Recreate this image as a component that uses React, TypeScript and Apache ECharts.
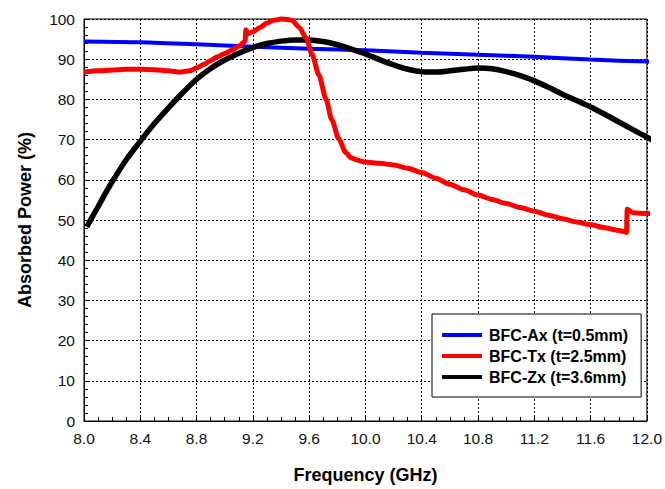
import React, { useEffect, useRef } from "react";
import * as echarts from "echarts";

// ---- Data ----
const seriesNames = ["BFC-Ax (t=0.5mm)", "BFC-Tx (t=2.5mm)", "BFC-Zx (t=3.6mm)"];

const axFreq = [8.0, 8.4, 8.8, 9.2, 9.6, 10.0, 10.4, 10.8, 11.2, 11.6, 12.0, 12.04];
const axPower = [94.4, 94.2, 93.7, 93.1, 92.6, 92.2, 91.6, 91.1, 90.6, 89.9, 89.4, 89.3];

const txFreq = [
  8.0, 8.1, 8.2, 8.3, 8.4, 8.5, 8.6, 8.68, 8.75, 8.8, 8.85, 8.9, 8.95, 9.0, 9.05, 9.1, 9.13, 9.145,
  9.15, 9.165, 9.2, 9.25, 9.3, 9.35, 9.4, 9.45, 9.48, 9.53, 9.58, 9.62, 9.67, 9.72, 9.76, 9.81,
  9.86, 9.9, 9.95, 10.0, 10.1, 10.2, 10.3, 10.4, 10.5, 10.6, 10.7, 10.8, 10.9, 11.0, 11.1, 11.2,
  11.3, 11.4, 11.5, 11.6, 11.7, 11.8, 11.855, 11.86, 11.9, 12.0, 12.04,
];
const txPower = [
  86.8, 87.1, 87.3, 87.5, 87.5, 87.4, 87.1, 86.8, 87.1, 87.8, 88.7, 89.7, 90.6, 91.4, 92.2, 93.2, 94.0, 94.6,
  97.3, 96.3, 96.8, 97.9, 99.0, 99.7, 100.0, 99.9, 99.6, 97.9, 95.2, 91.2, 86.0, 80.0, 75.0, 70.2,
  66.8, 65.4, 64.8, 64.4, 64.1, 63.7, 62.9, 61.8, 60.4, 58.9, 57.5, 56.2, 55.1, 54.1, 53.1, 52.2,
  51.2, 50.3, 49.5, 48.8, 48.1, 47.4, 46.9, 52.7, 51.8, 51.6, 51.6,
];

const zxFreq = [
  8.02, 8.05, 8.1, 8.15, 8.2, 8.3, 8.4, 8.5, 8.6, 8.7, 8.8, 8.9, 9.0, 9.1, 9.2, 9.3, 9.4, 9.5, 9.6,
  9.7, 9.8, 9.9, 10.0, 10.1, 10.2, 10.3, 10.4, 10.5, 10.6, 10.7, 10.8, 10.9, 11.0, 11.1, 11.2, 11.3,
  11.4, 11.5, 11.6, 11.7, 11.8, 11.9, 12.0, 12.06,
];
const zxPower = [
  48.3, 50.2, 53.3, 56.5, 59.5, 65.0, 69.6, 74.0, 77.9, 81.6, 85.0, 87.7, 89.8, 91.5, 92.9, 93.9, 94.5, 94.8, 94.8,
  94.4, 93.6, 92.5, 91.3, 89.9, 88.6, 87.5, 86.9, 86.8, 87.1, 87.5, 87.8, 87.6, 86.9, 85.9, 84.6, 83.0,
  81.3, 79.7, 78.1, 76.3, 74.4, 72.5, 70.6, 69.5,
];

const xMin = 8.0;
const xMax = 12.0;
const xStep = 0.4;
const yMin = 0;
const yMax = 100;
const yStep = 10;

const pairs = (xs: number[], ys: number[]) => xs.map((x, i) => [x, ys[i]]);

const FONT = "'Liberation Sans', Arial, sans-serif";

export default function App() {
  const ref = useRef<HTMLDivElement>(null);

  useEffect(() => {
    if (!ref.current) return;
    const chart = echarts.init(ref.current, undefined, { renderer: "svg" });
    const splitLine = { show: true, lineStyle: { color: "#000", width: 1, type: [2, 2] as any } };
    chart.setOption({
      animation: false,
      backgroundColor: "#fff",
      grid: {
        left: 84,
        right: 14,
        top: 19,
        bottom: 63,
        show: true,
        borderColor: "#000",
        borderWidth: 1,
        backgroundColor: "transparent",
      },
      legend: {
        orient: "vertical",
        left: 432,
        top: 314,
        backgroundColor: "#fff",
        borderColor: "#000",
        borderWidth: 1,
        borderRadius: 0,
        padding: [13, 13, 12, 10],
        itemWidth: 40,
        itemHeight: 4,
        itemGap: 5,
        icon: "rect",
        data: seriesNames,
        textStyle: {
          fontSize: 16,
          fontWeight: "bold",
          fontFamily: FONT,
          color: "#000",
          padding: [0, 0, 0, 2],
        },
      },
      xAxis: {
        type: "value",
        min: xMin,
        max: xMax,
        interval: xStep,
        name: "Frequency (GHz)",
        nameLocation: "middle",
        nameGap: 45,
        nameTextStyle: { fontSize: 18, fontWeight: "bold", fontFamily: FONT, color: "#000" },
        axisLine: { show: true, lineStyle: { color: "#000", width: 1 } },
        axisTick: { show: true, inside: true, length: 5, lineStyle: { color: "#000" } },
        minorTick: { show: true, splitNumber: 4, length: 4, lineStyle: { color: "#000" } },
        axisLabel: {
          fontSize: 15.5,
          fontFamily: FONT,
          color: "#111",
          margin: 9,
          formatter: (v: number) => v.toFixed(1),
        },
        splitLine,
      },
      yAxis: {
        type: "value",
        min: yMin,
        max: yMax,
        interval: yStep,
        name: "Absorbed Power (%)",
        nameLocation: "middle",
        nameGap: 50,
        nameRotate: 90,
        nameTextStyle: { fontSize: 18, fontWeight: "bold", fontFamily: FONT, color: "#000" },
        axisLine: { show: true, lineStyle: { color: "#000", width: 1 } },
        axisTick: { show: true, inside: true, length: 5, lineStyle: { color: "#000" } },
        minorTick: { show: true, splitNumber: 5, length: 4, lineStyle: { color: "#000" } },
        axisLabel: { fontSize: 15.5, fontFamily: FONT, color: "#111", margin: 9 },
        splitLine,
      },
      series: [
        {
          name: seriesNames[0],
          type: "line",
          data: pairs(axFreq, axPower),
          showSymbol: false,
          symbol: "none",
          clip: false,
          smooth: 0.3,
          color: "#0000ff",
          lineStyle: { color: "#0000ff", width: 4 },
          z: 2,
        },
        {
          name: seriesNames[2],
          type: "line",
          data: pairs(zxFreq, zxPower),
          showSymbol: false,
          symbol: "none",
          clip: false,
          smooth: 0.3,
          color: "#000000",
          lineStyle: { color: "#000000", width: 5.5 },
          z: 3,
        },
        {
          name: seriesNames[1],
          type: "line",
          data: pairs(txFreq, txPower),
          showSymbol: false,
          symbol: "none",
          clip: false,
          smooth: 0.25,
          smoothMonotone: "x",
          color: "#ff0000",
          lineStyle: { color: "#ff0000", width: 5, join: "round" },
          z: 4,
        },
      ],
    });
    return () => chart.dispose();
  }, []);

  return (
    <div
      ref={ref}
      style={{ position: "fixed", left: 0, top: 0, width: 665, height: 489, background: "#fff" }}
    />
  );
}
